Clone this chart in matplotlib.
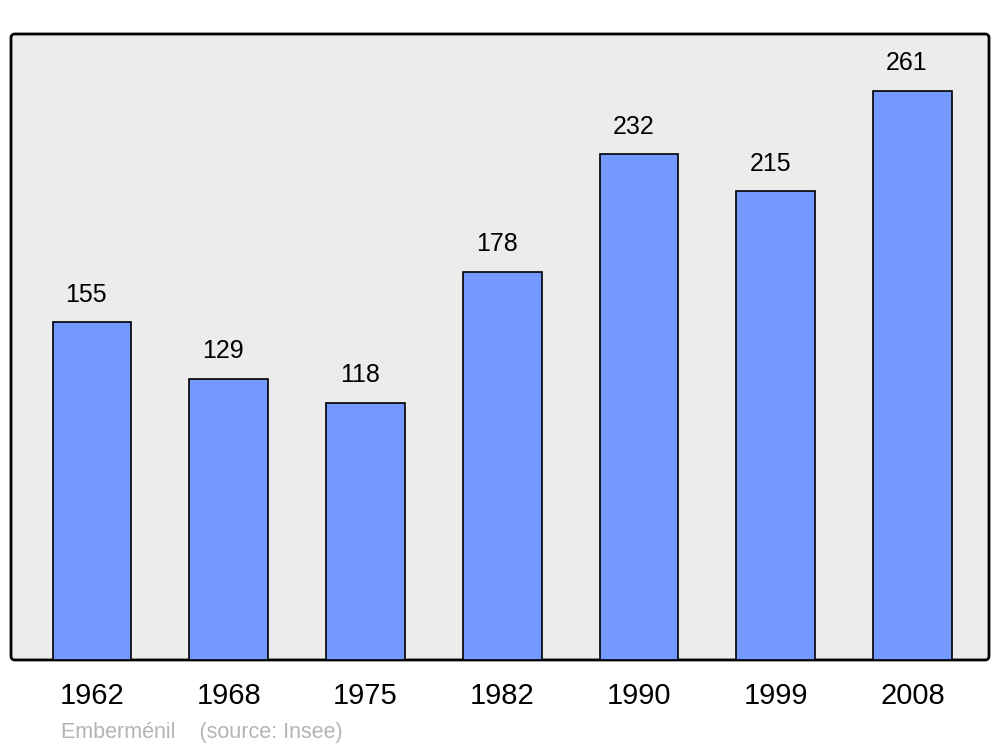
import matplotlib
matplotlib.use('Agg')
import matplotlib.pyplot as plt
from matplotlib.patches import FancyBboxPatch

# Population data (Insee)
years = ['1962', '1968', '1975', '1982', '1990', '1999', '2008']
population = [155, 129, 118, 178, 232, 215, 261]

plt.rcParams['font.family'] = ['Liberation Sans', 'DejaVu Sans']

fig = plt.figure(figsize=(10, 7.47), dpi=100)
ax = fig.add_axes([0.011, 0.1165, 0.978, 0.838])
ax.set_zorder(2)

# Rounded grey background box
bg = FancyBboxPatch((0.011, 0.1165), 0.978, 0.838,
                    boxstyle='round,pad=0,rounding_size=0.004',
                    mutation_aspect=1000 / 747,
                    transform=fig.transFigure, facecolor='#ececec',
                    edgecolor='black', linewidth=2, zorder=-1)
fig.patches.append(bg)
ax.patch.set_visible(False)
for s in ax.spines.values():
    s.set_visible(False)

x = range(len(years))
bars = ax.bar(x, population, width=0.575, color='#7399ff',
              edgecolor='black', linewidth=1.2, zorder=2)

for xi, v in zip(x, population):
    ax.annotate(str(v), (xi, v), xytext=(-4, 11), textcoords='offset points',
                ha='center', va='bottom', fontsize=18)

ax.set_xlim(-0.592, 6.559)
ax.set_ylim(0, 287)
ax.set_yticks([])
ax.set_xticks(list(x))
ax.set_xticklabels(years, fontsize=21)
ax.tick_params(axis='x', length=0, pad=16)

fig.text(0.061, 1 - 738 / 747, 'Emberménil    (source: Insee)',
         fontsize=15.5, color='#b4b4b4', va='baseline')

fig.savefig('out.png', dpi=100)
